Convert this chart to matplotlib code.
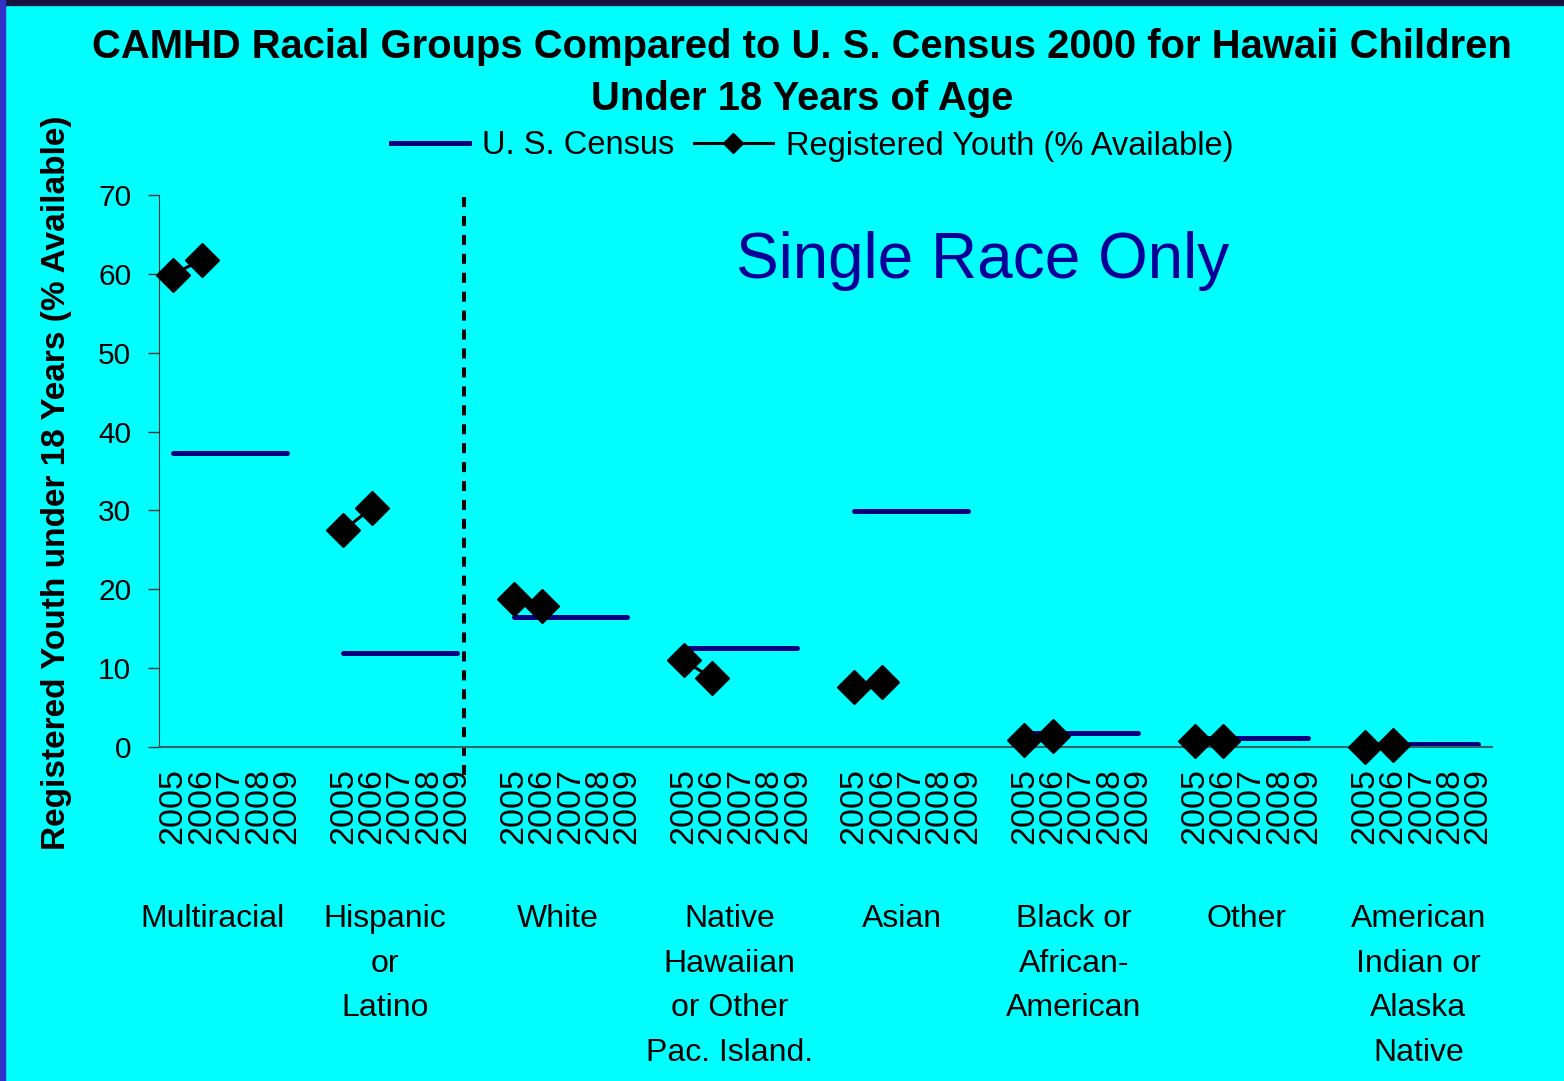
import matplotlib.pyplot as plt
from matplotlib.lines import Line2D
from matplotlib.patches import Rectangle

plt.rcParams['font.family'] = ['Liberation Sans', 'DejaVu Sans']

groups = ["Multiracial", "Hispanic\nor\nLatino", "White", "Native\nHawaiian\nor Other\nPac. Island.",
          "Asian", "Black or\nAfrican-\nAmerican", "Other", "American\nIndian or\nAlaska\nNative"]
years = ["2005", "2006", "2007", "2008", "2009"]
census = [37.3, 11.9, 16.5, 12.6, 29.9, 1.8, 1.1, 0.4]
registered_2005 = [59.9, 27.5, 18.7, 11.0, 7.6, 0.9, 0.7, 0.0]
registered_2006 = [61.8, 30.3, 17.9, 8.7, 8.3, 1.4, 0.7, 0.3]

cyan = "#00FFFF"
navy = "#000080"

fig = plt.figure(figsize=(15.64, 10.81), dpi=100, facecolor=cyan)
ax = fig.add_axes([0.1017, 0.309, 0.8525, 0.5107], facecolor=cyan)

# frame strips on top and left edge
fig.patches.append(Rectangle((0, 1 - 5 / 1081), 1, 5 / 1081, transform=fig.transFigure,
                             color="#15153f", zorder=0))
fig.patches.append(Rectangle((0, 0), 5 / 1564, 1, transform=fig.transFigure,
                             color="#3232c8", zorder=0))

step = len(years) + 1
ticks, ticklabels = [], []
for g, name in enumerate(groups):
    x0 = g * step
    xs = [x0 + k for k in range(len(years))]
    ticks += xs
    ticklabels += years
    ax.plot([xs[0], xs[-1]], [census[g], census[g]], color=navy, lw=3.6,
            solid_capstyle="round", zorder=2)
    ax.plot(xs[:2], [registered_2005[g], registered_2006[g]], color="black", lw=2.2,
            marker="D", ms=17, zorder=3, clip_on=False)
    ax.text(x0 + 1.4 + 0.07 * g, -0.2845, name, transform=ax.get_xaxis_transform(),
            ha="center", va="top", fontsize=23, linespacing=1.64)

ax.set_xlim(-0.5, len(groups) * step - 1.5)
ax.set_ylim(0, 70)
ax.set_yticks(range(0, 71, 10))
ax.set_xticks(ticks)
ax.set_xticklabels(ticklabels, rotation=90, va="top", fontsize=24.5)
ax.tick_params(axis="x", length=0, pad=15)
ax.tick_params(axis="y", length=8, width=1, labelsize=21.5, pad=12, color="#333333")
for side in ["top", "right"]:
    ax.spines[side].set_visible(False)
ax.spines["left"].set_color("#333333")
ax.spines["bottom"].set_color("#336666")
ax.spines["bottom"].set_linewidth(1.5)

# separator between multi-race and single race groups
ax.axvline(10.25, ymin=-0.05, ymax=1.0, color="black", lw=2.9, linestyle=(0, (2.5, 2.2)),
           clip_on=False)
ax.text(0.618, 0.88, "Single Race Only", transform=ax.transAxes, ha="center", va="center",
        fontsize=46, color="#000099")

fig.text(0.513, 1 - 47 / 1081, "CAMHD Racial Groups Compared to U. S. Census 2000 for Hawaii Children",
         ha="center", va="center", fontsize=28.8, fontweight="bold")
fig.text(0.513, 1 - 99 / 1081, "Under 18 Years of Age", ha="center", va="center",
         fontsize=28.8, fontweight="bold")
fig.text(57 / 1564, 1 - 483 / 1081, "Registered Youth under 18 Years (% Available)",
         rotation=90, ha="center", va="center", fontsize=24, fontweight="bold")

handles = [Line2D([], [], color=navy, lw=3.6),
           Line2D([], [], color="black", lw=2.2, marker="D", ms=10)]
fig.legend(handles, ["U. S. Census", "Registered Youth (% Available)"], loc="center",
           bbox_to_anchor=(812 / 1564, 1 - 146 / 1081), ncol=2, frameon=False, fontsize=23.5,
           handlelength=2.4, handletextpad=0.4, columnspacing=0.6)

fig.savefig("out.png", dpi=100, facecolor=cyan)
